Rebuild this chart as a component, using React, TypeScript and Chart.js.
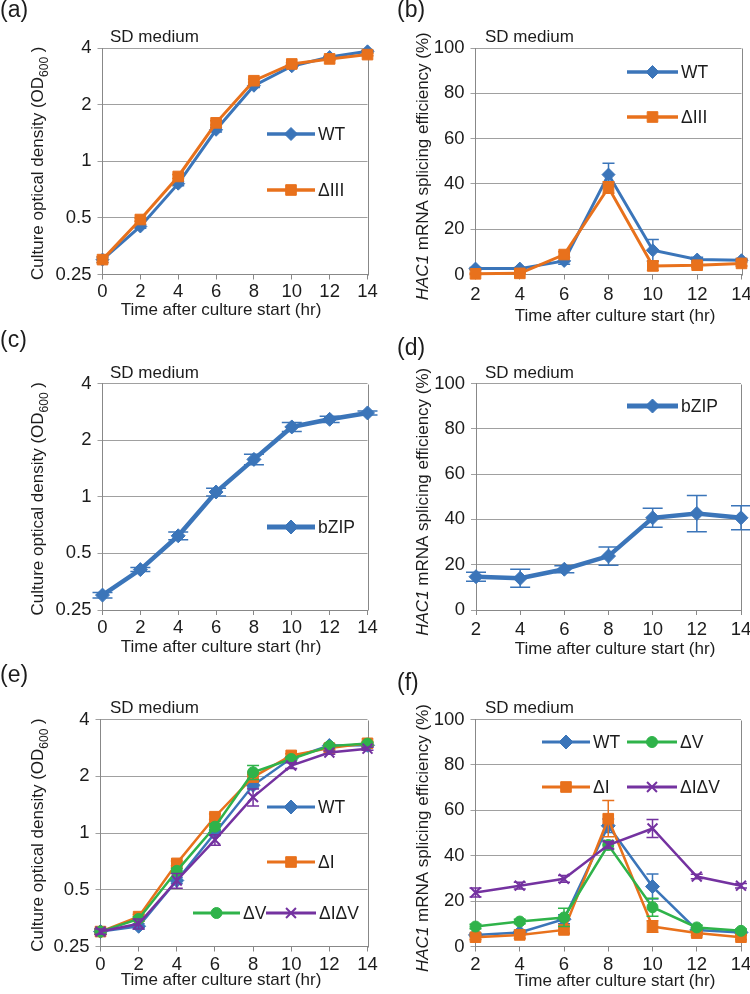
import React, { useEffect, useRef } from 'react';
import { Chart, registerables } from 'chart.js';
Chart.register(...registerables);

const FONT = '"Liberation Sans", Arial, Helvetica, sans-serif';
const TEXT = '#1c1c1c';
const GRID = '#a0a0a0';
const AXIS = '#888888';
const BLUE = '#3B75B9';
const ORANGE = '#E8711C';
const GREEN = '#2FB34A';
const PURPLE = '#7432A0';

// ---------- data ----------
const odTimes = [0, 2, 4, 6, 8, 10, 12, 14];
const spliceTimes = [2, 4, 6, 8, 10, 12, 14];
const odTickValues = [0.25, 0.5, 1, 2, 4];
const odTickLabels = ['0.25', '0.5', '1', '2', '4'];
const pctTickValues = [0, 20, 40, 60, 80, 100];

// (a) growth, SD medium
const aWT = [0.30, 0.45, 0.76, 1.47, 2.52, 3.20, 3.58, 3.84];
const aWTErr = [0.01, 0.01, 0.02, 0.04, 0.05, 0.06, 0.06, 0.05];
const aDIII = [0.30, 0.49, 0.83, 1.60, 2.68, 3.29, 3.50, 3.69];
const aDIIIErr = [0.01, 0.01, 0.02, 0.04, 0.05, 0.05, 0.05, 0.05];

// (b) splicing
const bWT = [2.6, 2.6, 6.0, 44.1, 10.7, 6.6, 6.3];
const bWTErr = [0.5, 0.5, 1.5, 5.0, 4.7, 1.0, 0.8];
const bDIII = [0.3, 0.5, 8.8, 38.4, 3.8, 4.1, 4.9];
const bDIIIErr = [0.3, 0.3, 1.2, 2.5, 2.0, 1.0, 1.2];

// (c) growth bZIP
const cZIP = [0.30, 0.41, 0.62, 1.06, 1.58, 2.35, 2.58, 2.79];
const cZIPErr = [0.01, 0.01, 0.03, 0.05, 0.10, 0.13, 0.10, 0.07];

// (d) splicing bZIP
const dZIP = [14.7, 14.0, 18.0, 23.8, 40.7, 42.6, 40.7];
const dZIPErr = [2.0, 4.0, 1.5, 4.0, 4.2, 8.0, 5.3];

// (e) growth
const eWT = [0.30, 0.32, 0.56, 1.00, 1.79, 2.49, 2.91, 2.92];
const eWTErr = [0.01, 0.01, 0.02, 0.03, 0.06, 0.05, 0.05, 0.05];
const eDI = [0.30, 0.36, 0.69, 1.22, 1.98, 2.58, 2.82, 2.99];
const eDIErr = [0.01, 0.01, 0.02, 0.04, 0.06, 0.05, 0.05, 0.05];
const eDV = [0.30, 0.35, 0.63, 1.08, 2.10, 2.47, 2.89, 2.98];
const eDVErr = [0.01, 0.01, 0.02, 0.04, 0.18, 0.05, 0.05, 0.05];
const eDIDV = [0.30, 0.33, 0.56, 0.92, 1.55, 2.28, 2.67, 2.80];
const eDIDVErr = [0.01, 0.02, 0.05, 0.06, 0.16, 0.08, 0.05, 0.05];

// (f) splicing
const fWT = [5.1, 6.2, 12.0, 53.2, 26.4, 7.3, 6.2];
const fWTErr = [0.8, 1.0, 2.0, 3.0, 5.5, 1.0, 1.0];
const fDI = [4.1, 5.1, 7.3, 56.3, 8.8, 5.9, 4.1];
const fDIErr = [1.0, 1.5, 1.5, 8.0, 2.5, 1.0, 1.0];
const fDV = [8.8, 11.0, 12.8, 44.7, 17.3, 8.4, 6.9];
const fDVErr = [1.0, 1.0, 4.0, 2.0, 4.0, 1.0, 0.8];
const fDIDV = [23.8, 26.8, 29.8, 44.7, 52.0, 30.8, 26.8];
const fDIDVErr = [2.0, 1.5, 1.5, 1.5, 4.0, 1.0, 1.0];

const odTitle = [
  { text: 'Culture optical density (OD' },
  { text: '600', sub: true },
  { text: ' )' },
];
const pctTitle = [
  { text: 'HAC1', italic: true },
  { text: ' mRNA splicing efficiency (%)' },
];
const xTitle = 'Time after culture start (hr)';
const mediumLabel = 'SD medium';

type Series = {
  label: string; data: number[]; err: number[]; color: string;
  style: string; radius: number; width: number;
};
type Panel = {
  left: number; top: number; w: number; h: number;
  area: { l: number; r: number; t: number; b: number };
  kind: 'od' | 'pct';
  letter: string; letterX: number; letterY: number;
  sdY: number;
  yTitleX: number; yTitleDy: number;
  xTitleX: number; xTitleY: number;
  xTickPad: number;
  cap: number;
  legend: { x: number; y: number; len: number }[];
  series: Series[];
};

const panels: Panel[] = [
  {
    left: 0, top: 0, w: 388, h: 330,
    area: { l: 102.5, r: 367.5, t: 48, b: 274.5 }, kind: 'od',
    letter: '(a)', letterX: 0, letterY: 17, sdY: 41.5,
    yTitleX: 43, yTitleDy: 2, xTitleX: 221, xTitleY: 315, xTickPad: 3, cap: 12,
    legend: [{ x: 267, y: 134, len: 48 }, { x: 267, y: 190, len: 48 }],
    series: [
      { label: 'WT', data: aWT, err: aWTErr, color: BLUE, style: 'rectRot', radius: 6.5, width: 3 },
      { label: 'ΔIII', data: aDIII, err: aDIIIErr, color: ORANGE, style: 'rect', radius: 7.5, width: 3 },
    ],
  },
  {
    left: 375, top: 0, w: 375, h: 330,
    area: { l: 100.5, r: 366.5, t: 48, b: 274.5 }, kind: 'pct',
    letter: '(b)', letterX: 22, letterY: 17, sdY: 41.5,
    yTitleX: 53, yTitleDy: 5, xTitleX: 240, xTitleY: 321, xTickPad: 6, cap: 12,
    legend: [{ x: 252, y: 72, len: 51 }, { x: 252, y: 117, len: 51 }],
    series: [
      { label: 'WT', data: bWT, err: bWTErr, color: BLUE, style: 'rectRot', radius: 6.5, width: 3 },
      { label: 'ΔIII', data: bDIII, err: bDIIIErr, color: ORANGE, style: 'rect', radius: 7.5, width: 3 },
    ],
  },
  {
    left: 0, top: 330, w: 388, h: 330,
    area: { l: 102.5, r: 367.5, t: 53.5, b: 280 }, kind: 'od',
    letter: '(c)', letterX: 0, letterY: 17, sdY: 48,
    yTitleX: 43, yTitleDy: 2, xTitleX: 221, xTitleY: 322, xTickPad: 4, cap: 20,
    legend: [{ x: 267, y: 197, len: 48 }],
    series: [
      { label: 'bZIP', data: cZIP, err: cZIPErr, color: BLUE, style: 'rectRot', radius: 7, width: 4.5 },
    ],
  },
  {
    left: 375, top: 330, w: 375, h: 330,
    area: { l: 101, r: 366, t: 53.5, b: 280 }, kind: 'pct',
    letter: '(d)', letterX: 22, letterY: 25, sdY: 48,
    yTitleX: 53, yTitleDy: 5, xTitleX: 240, xTitleY: 324, xTickPad: 6, cap: 20,
    legend: [{ x: 252, y: 76, len: 51 }],
    series: [
      { label: 'bZIP', data: dZIP, err: dZIPErr, color: BLUE, style: 'rectRot', radius: 7, width: 4.5 },
    ],
  },
  {
    left: 0, top: 660, w: 388, h: 334,
    area: { l: 100.5, r: 367.5, t: 59.5, b: 286.5 }, kind: 'od',
    letter: '(e)', letterX: 0, letterY: 22, sdY: 53,
    yTitleX: 43, yTitleDy: 2, xTitleX: 221, xTitleY: 325, xTickPad: 4, cap: 12,
    legend: [
      { x: 267, y: 147, len: 48 }, { x: 267, y: 202, len: 48 },
      { x: 193, y: 253, len: 47 }, { x: 266, y: 253, len: 50 },
    ],
    series: [
      { label: 'WT', data: eWT, err: eWTErr, color: BLUE, style: 'rectRot', radius: 7, width: 2.5 },
      { label: 'ΔI', data: eDI, err: eDIErr, color: ORANGE, style: 'rect', radius: 7.5, width: 2.5 },
      { label: 'ΔV', data: eDV, err: eDVErr, color: GREEN, style: 'circle', radius: 5.5, width: 2.5 },
      { label: 'ΔIΔV', data: eDIDV, err: eDIDVErr, color: PURPLE, style: 'crossRot', radius: 7, width: 2.5 },
    ],
  },
  {
    left: 375, top: 660, w: 375, h: 334,
    area: { l: 100.5, r: 366, t: 59.5, b: 286.5 }, kind: 'pct',
    letter: '(f)', letterX: 22, letterY: 30, sdY: 53,
    yTitleX: 53, yTitleDy: 5, xTitleX: 240, xTitleY: 326, xTickPad: 4, cap: 12,
    legend: [
      { x: 167, y: 82, len: 48 }, { x: 167, y: 127, len: 48 },
      { x: 252, y: 82, len: 50 }, { x: 252, y: 127, len: 50 },
    ],
    series: [
      { label: 'WT', data: fWT, err: fWTErr, color: BLUE, style: 'rectRot', radius: 7, width: 2.5 },
      { label: 'ΔI', data: fDI, err: fDIErr, color: ORANGE, style: 'rect', radius: 7.5, width: 2.5 },
      { label: 'ΔV', data: fDV, err: fDVErr, color: GREEN, style: 'circle', radius: 5.5, width: 2.5 },
      { label: 'ΔIΔV', data: fDIDV, err: fDIDVErr, color: PURPLE, style: 'crossRot', radius: 7, width: 2.5 },
    ],
  },
];

function drawMarker(ctx: CanvasRenderingContext2D, style: string, x: number, y: number, r: number, color: string) {
  ctx.save();
  ctx.fillStyle = color;
  ctx.strokeStyle = color;
  ctx.beginPath();
  if (style === 'rectRot') {
    ctx.lineWidth = 1;
    ctx.moveTo(x - r, y); ctx.lineTo(x, y - r); ctx.lineTo(x + r, y); ctx.lineTo(x, y + r);
    ctx.closePath(); ctx.fill(); ctx.stroke();
  } else if (style === 'rect') {
    ctx.lineWidth = 1;
    const h = r * Math.SQRT1_2;
    ctx.rect(x - h, y - h, 2 * h, 2 * h); ctx.fill(); ctx.stroke();
  } else if (style === 'circle') {
    ctx.lineWidth = 1;
    ctx.arc(x, y, r, 0, Math.PI * 2); ctx.fill(); ctx.stroke();
  } else if (style === 'crossRot') {
    ctx.lineWidth = 2;
    const h = r * Math.SQRT1_2;
    ctx.moveTo(x - h, y - h); ctx.lineTo(x + h, y + h);
    ctx.moveTo(x - h, y + h); ctx.lineTo(x + h, y - h);
    ctx.stroke();
  }
  ctx.restore();
}

function makeDecor(p: Panel) {
  return {
    id: 'decor',
    beforeDatasetsDraw(chart: any) {
      const ctx: CanvasRenderingContext2D = chart.ctx;
      const a = chart.chartArea;
      ctx.save();
      ctx.strokeStyle = AXIS;
      ctx.lineWidth = 1;
      const rx = Math.round(a.right) + 0.5;
      ctx.beginPath();
      ctx.moveTo(rx, Math.round(a.top) + 0.5);
      ctx.lineTo(rx, Math.round(a.bottom) + 0.5);
      ctx.stroke();
      ctx.restore();
    },
    beforeDatasetDraw(chart: any, args: any) {
      const s = p.series[args.index];
      if (!s) return;
      const ctx: CanvasRenderingContext2D = chart.ctx;
      const ys = chart.scales.y;
      ctx.save();
      ctx.strokeStyle = s.color;
      ctx.lineWidth = 1.5;
      args.meta.data.forEach((pt: any, j: number) => {
        const v = s.data[j];
        const e = s.err[j];
        if (!e) return;
        const lo = Math.max(v - e, p.kind === 'od' ? 0.01 : -1000);
        const yt = ys.getPixelForValue(v + e);
        const yb = ys.getPixelForValue(lo);
        const x = pt.x;
        const c = p.cap / 2;
        ctx.beginPath();
        ctx.moveTo(x, yt); ctx.lineTo(x, yb);
        ctx.moveTo(x - c, yt); ctx.lineTo(x + c, yt);
        ctx.moveTo(x - c, yb); ctx.lineTo(x + c, yb);
        ctx.stroke();
      });
      ctx.restore();
    },
    afterDatasetsDraw(chart: any) {
      const ctx: CanvasRenderingContext2D = chart.ctx;
      p.series.forEach((s, i) => {
        const L = p.legend[i];
        if (!L) return;
        ctx.save();
        ctx.strokeStyle = s.color;
        ctx.lineWidth = s.width + 0.5;
        ctx.beginPath();
        ctx.moveTo(L.x, L.y); ctx.lineTo(L.x + L.len, L.y);
        ctx.stroke();
        ctx.restore();
        drawMarker(ctx, s.style, L.x + L.len / 2, L.y, s.radius, s.color);
        ctx.save();
        ctx.fillStyle = TEXT;
        ctx.font = `17.5px ${FONT}`;
        ctx.textBaseline = 'middle';
        ctx.textAlign = 'left';
        ctx.fillText(s.label, L.x + L.len + 3, L.y + 1);
        ctx.restore();
      });
    },
    afterDraw(chart: any) {
      const ctx: CanvasRenderingContext2D = chart.ctx;
      const a = chart.chartArea;
      ctx.save();
      ctx.fillStyle = TEXT;
      ctx.textBaseline = 'alphabetic';
      ctx.textAlign = 'left';
      // panel letter
      ctx.font = `23px ${FONT}`;
      ctx.fillText(p.letter, p.letterX, p.letterY);
      // medium label
      ctx.font = `17px ${FONT}`;
      ctx.fillText(mediumLabel, 110, p.sdY);
      // x title
      ctx.textAlign = 'center';
      ctx.fillText(xTitle, p.xTitleX, p.xTitleY);
      // y title
      const parts: any[] = p.kind === 'od' ? odTitle : pctTitle;
      const fonts = parts.map((pt) => `${pt.italic ? 'italic ' : ''}${pt.sub ? 12 : 17}px ${FONT}`);
      const widths = parts.map((pt, i) => { ctx.font = fonts[i]; return ctx.measureText(pt.text).width; });
      const total = widths.reduce((s, w) => s + w, 0);
      const cy = (a.top + a.bottom) / 2 + p.yTitleDy;
      ctx.translate(p.yTitleX, cy);
      ctx.rotate(-Math.PI / 2);
      ctx.textAlign = 'left';
      let xx = -total / 2;
      parts.forEach((pt, i) => {
        ctx.font = fonts[i];
        ctx.fillText(pt.text, xx, pt.sub ? 5 : 0);
        xx += widths[i];
      });
      ctx.restore();
    },
  };
}

function PanelChart({ p }: { p: Panel }) {
  const ref = useRef<HTMLCanvasElement>(null);
  useEffect(() => {
    const canvas = ref.current;
    if (!canvas) return;
    const times = p.kind === 'od' ? odTimes : spliceTimes;
    const tickFont = { family: FONT, size: 18.5, lineHeight: 1 };
    const yScale: any = p.kind === 'od'
      ? {
        type: 'logarithmic', min: 0.25, max: 4,
        afterBuildTicks: (s: any) => { s.ticks = odTickValues.map((v) => ({ value: v })); },
        ticks: { font: tickFont, color: TEXT, padding: 6, callback: (_v: any, i: number) => odTickLabels[i] },
      }
      : {
        type: 'linear', min: 0, max: 100,
        afterBuildTicks: (s: any) => { s.ticks = pctTickValues.map((v) => ({ value: v })); },
        ticks: { font: tickFont, color: TEXT, padding: 6, callback: (v: any) => String(v) },
      };
    yScale.grid = { color: GRID, lineWidth: 1, drawTicks: true, tickLength: 5 };
    yScale.border = { display: true, color: AXIS, width: 1 };
    yScale.afterFit = (s: any) => { s.width = p.area.l; s.paddingTop = 0; s.paddingBottom = 0; };

    const chart = new Chart(canvas, {
      type: 'line',
      data: {
        datasets: p.series.map((s, i) => ({
          label: s.label,
          data: s.data.map((v, j) => ({ x: times[j], y: v })),
          borderColor: s.color,
          backgroundColor: s.color,
          borderWidth: s.width,
          pointStyle: s.style as any,
          pointRadius: s.radius,
          pointHoverRadius: s.radius,
          pointBackgroundColor: s.color,
          pointBorderColor: s.color,
          pointBorderWidth: s.style === 'crossRot' ? 2 : 1,
          tension: 0,
          clip: false as any,
          order: -i,
        })),
      },
      options: {
        responsive: false,
        animation: false,
        devicePixelRatio: 1,
        events: [],
        layout: { padding: { left: 0, top: p.area.t, right: p.w - p.area.r, bottom: 0 } },
        plugins: { legend: { display: false }, tooltip: { enabled: false } },
        scales: {
          x: {
            type: 'linear', min: times[0], max: 14,
            afterBuildTicks: (s: any) => { s.ticks = times.map((v) => ({ value: v })); },
            ticks: { font: tickFont, color: TEXT, padding: p.xTickPad, maxRotation: 0, autoSkip: false },
            grid: { drawOnChartArea: false, drawTicks: true, tickLength: 5, color: AXIS },
            border: { display: true, color: AXIS, width: 1 },
            afterFit: (s: any) => { s.height = p.h - p.area.b; s.paddingLeft = 0; s.paddingRight = 0; },
          } as any,
          y: yScale,
        },
      },
      plugins: [makeDecor(p) as any],
    });
    return () => chart.destroy();
  }, []);
  return (
    <canvas
      ref={ref}
      width={p.w}
      height={p.h}
      style={{ position: 'absolute', left: p.left, top: p.top, width: p.w, height: p.h }}
    />
  );
}

export default function App() {
  return (
    <div style={{ position: 'absolute', left: 0, top: 0, width: 750, height: 994, background: '#fff' }}>
      {panels.map((p, i) => <PanelChart key={i} p={p} />)}
    </div>
  );
}
